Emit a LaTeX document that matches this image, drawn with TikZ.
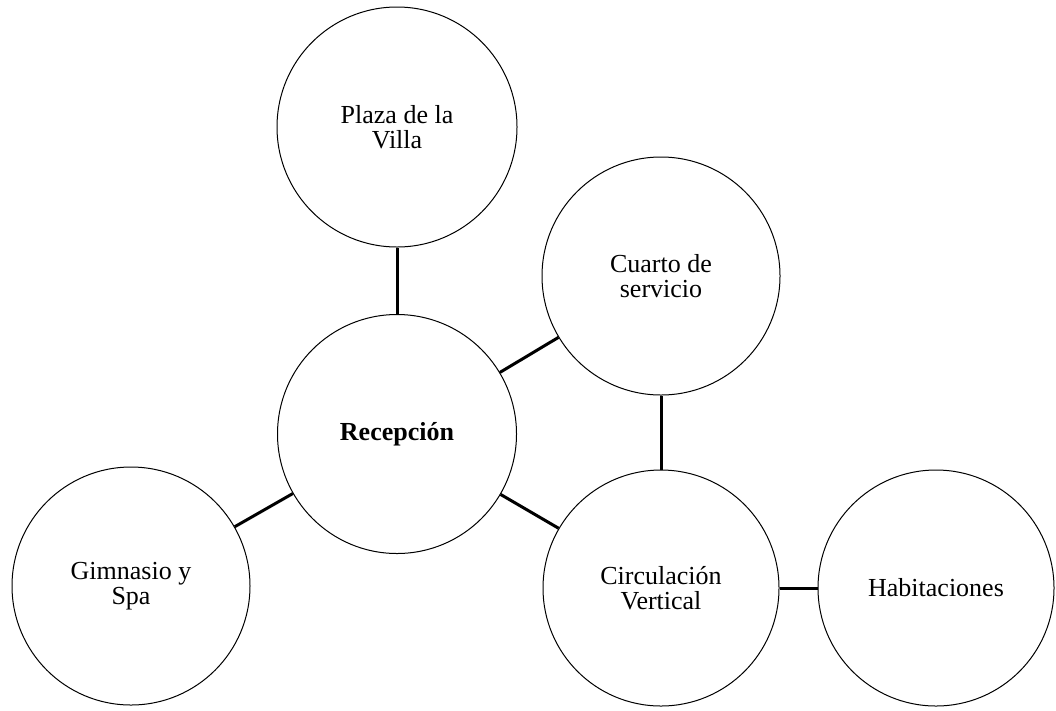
\documentclass[tikz,border=0pt]{standalone}
\usepackage{fontspec}
\setmainfont{Liberation Serif}
\begin{document}
\begin{tikzpicture}[x=1pt,y=-1pt,
  room/.style={circle,draw=black,line width=1pt,inner sep=0pt,align=center,
    font=\fontsize{26}{25}\selectfont},
  conn/.style={draw=black,line width=3pt}]
\useasboundingbox (0,0) rectangle (1056,710);
\node[room,minimum size=240pt] (plaza) at (397,127) {Plaza de la\\Villa};
\node[room,minimum size=239pt] (rec) at (397,434) {\textbf{Recepción}};
\node[room,minimum size=238pt] (cua) at (661,276) {Cuarto de\\servicio};
\node[room,minimum size=238pt] (gim) at (131,586) {Gimnasio y\\Spa};
\node[room,minimum size=236pt] (circ) at (661,588) {Circulación\\Vertical};
\node[room,minimum size=236pt] (hab) at (936,588) {Habitaciones};
\draw[conn] (plaza) -- (rec);
\draw[conn] (rec) -- (cua);
\draw[conn] (cua) -- (circ);
\draw[conn] (rec) -- (circ);
\draw[conn] (gim) -- (rec);
\draw[conn] (circ) -- (hab);
\end{tikzpicture}
\end{document}
